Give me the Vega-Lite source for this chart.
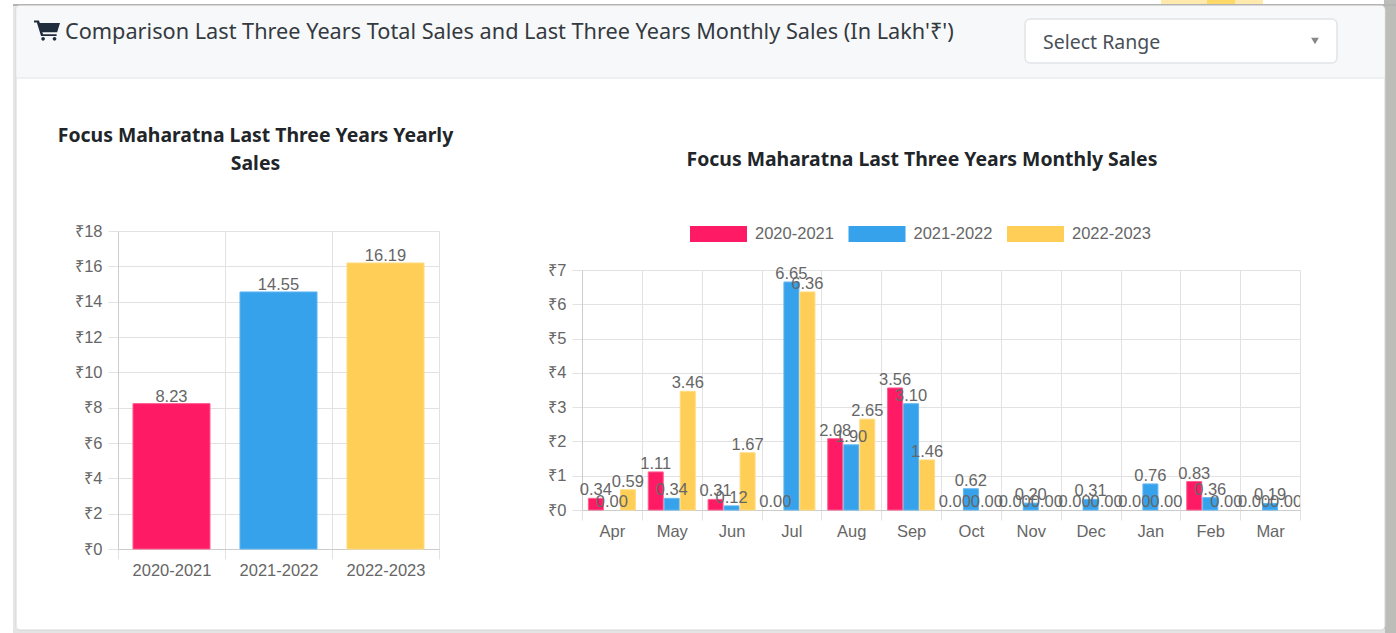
{
"$schema":"https://vega.github.io/schema/vega-lite/v6.json",
"padding":{"left":13,"top":0,"right":0,"bottom":0},
"background":"#ffffff",
"bounds":"flush",
"spacing":153,
"resolve":{"scale":{"color":"independent","stroke":"independent"},"legend":{"color":"independent","stroke":"independent"}},
"config":{"view":{"stroke":null},"font":"Liberation Sans"},
"datasets":{
"yearly":[{"year":"2020-2021","sales":8.23},{"year":"2021-2022","sales":14.55},{"year":"2022-2023","sales":16.19}],
"monthly":[
{"month":"Apr","year":"2020-2021","sales":0.34},{"month":"Apr","year":"2021-2022","sales":0},{"month":"Apr","year":"2022-2023","sales":0.59},
{"month":"May","year":"2020-2021","sales":1.11},{"month":"May","year":"2021-2022","sales":0.34},{"month":"May","year":"2022-2023","sales":3.46},
{"month":"Jun","year":"2020-2021","sales":0.31},{"month":"Jun","year":"2021-2022","sales":0.12},{"month":"Jun","year":"2022-2023","sales":1.67},
{"month":"Jul","year":"2020-2021","sales":0},{"month":"Jul","year":"2021-2022","sales":6.65},{"month":"Jul","year":"2022-2023","sales":6.36},
{"month":"Aug","year":"2020-2021","sales":2.08},{"month":"Aug","year":"2021-2022","sales":1.90},{"month":"Aug","year":"2022-2023","sales":2.65},
{"month":"Sep","year":"2020-2021","sales":3.56},{"month":"Sep","year":"2021-2022","sales":3.10},{"month":"Sep","year":"2022-2023","sales":1.46},
{"month":"Oct","year":"2020-2021","sales":0},{"month":"Oct","year":"2021-2022","sales":0.62},{"month":"Oct","year":"2022-2023","sales":0},
{"month":"Nov","year":"2020-2021","sales":0},{"month":"Nov","year":"2021-2022","sales":0.20},{"month":"Nov","year":"2022-2023","sales":0},
{"month":"Dec","year":"2020-2021","sales":0},{"month":"Dec","year":"2021-2022","sales":0.31},{"month":"Dec","year":"2022-2023","sales":0},
{"month":"Jan","year":"2020-2021","sales":0},{"month":"Jan","year":"2021-2022","sales":0.76},{"month":"Jan","year":"2022-2023","sales":0},
{"month":"Feb","year":"2020-2021","sales":0.83},{"month":"Feb","year":"2021-2022","sales":0.36},{"month":"Feb","year":"2022-2023","sales":0},
{"month":"Mar","year":"2020-2021","sales":0},{"month":"Mar","year":"2021-2022","sales":0.19},{"month":"Mar","year":"2022-2023","sales":0}
]},
"vconcat":[
{"width":1371,"height":73,
 "encoding":{},
 "layer":[
 {"data":{"values":[{"part":"page right"}]},"mark":{"type":"rect","fill":"#bcbdb9","clip":false},
  "encoding":{"x":{"datum":1369,"type":"quantitative","scale":{"domain":[0,1371],"range":[0,1371],"nice":false},"axis":null},"x2":{"datum":1382},"y":{"datum":-5,"type":"quantitative","scale":{"domain":[0,73],"range":[0,73],"nice":false},"axis":null},"y2":{"datum":628}}},
 {"data":{"values":[{"part":"page left"}]},"mark":{"type":"rect","fill":"#e6e6e6"},
  "encoding":{"x":{"datum":-2,"type":"quantitative"},"x2":{"datum":1},"y":{"datum":0,"type":"quantitative"},"y2":{"datum":628}}},
 {"data":{"values":[{"part":"page bottom"}]},"mark":{"type":"rect","fill":"#e4e4e4"},
  "encoding":{"x":{"datum":-2,"type":"quantitative"},"x2":{"datum":1370},"y":{"datum":624,"type":"quantitative"},"y2":{"datum":628}}},
 {"data":{"values":[{"part":"page top"}]},"mark":{"type":"rect","fill":"#b4b4b4"},
  "encoding":{"x":{"datum":-2,"type":"quantitative"},"x2":{"datum":1382},"y":{"datum":-1,"type":"quantitative"},"y2":{"datum":1}}},
 {"data":{"values":[{"part":"glow"}]},"mark":{"type":"rect","fill":"#ffe9ad"},
  "encoding":{"x":{"datum":1146,"type":"quantitative"},"x2":{"datum":1248},"y":{"datum":-5,"type":"quantitative"},"y2":{"datum":-1}}},
 {"data":{"values":[{"part":"glow core"}]},"mark":{"type":"rect","fill":"#ffd968"},
  "encoding":{"x":{"datum":1192,"type":"quantitative"},"x2":{"datum":1220},"y":{"datum":-5,"type":"quantitative"},"y2":{"datum":-1}}},
 {"data":{"values":[{"part":"card"}]},"mark":{"type":"rect","fill":"#ffffff","stroke":"#d6d6d6","strokeWidth":1,"cornerRadius":4},
  "encoding":{"x":{"datum":1,"type":"quantitative"},"x2":{"datum":1370},"y":{"datum":0.5,"type":"quantitative"},"y2":{"datum":625}}},
 {"data":{"values":[{"part":"header"}]},"mark":{"type":"rect","fill":"#f7f8fa","stroke":null,"cornerRadius":3},
  "encoding":{"x":{"datum":1.5,"type":"quantitative"},"x2":{"datum":1369.5},"y":{"datum":1,"type":"quantitative"},"y2":{"datum":73}}},
 {"data":{"values":[{"part":"rule"}]},"mark":{"type":"rule","stroke":"#e2e4e7"},
  "encoding":{"x":{"datum":1,"type":"quantitative"},"x2":{"datum":1370},"y":{"datum":73,"type":"quantitative"}}},
 {"data":{"values":[{"part":"cart"}]},"mark":{"type":"point","filled":true,"opacity":1,"size":676,"color":"#1f2d3d","shape":"M-1 -0.74H-0.62L-0.55 -0.53H1L0.78 0.17H-0.36L-0.3 0.33H0.74V0.47H-0.46L-0.78 -0.58H-1ZM-0.3 0.54A0.14 0.14 0 1 0 -0.3 0.82A0.14 0.14 0 1 0 -0.3 0.54ZM0.58 0.54A0.14 0.14 0 1 0 0.58 0.82A0.14 0.14 0 1 0 0.58 0.54Z"},
  "encoding":{"x":{"datum":32,"type":"quantitative"},"y":{"datum":25,"type":"quantitative"}}},
 {"data":{"values":[{"label":"Comparison Last Three Years Total Sales and Last Three Years Monthly Sales (In Lakh'₹')"}]},"mark":{"type":"text","align":"left","baseline":"middle","font":"Noto Sans","fontSize":21.7,"color":"#343a40"},
  "encoding":{"x":{"datum":50,"type":"quantitative"},"y":{"datum":27,"type":"quantitative"},"text":{"field":"label"}}},
 {"data":{"values":[{"part":"select"}]},"mark":{"type":"rect","fill":"#ffffff","stroke":"#e1e4e8","strokeWidth":1.5,"cornerRadius":5},
  "encoding":{"x":{"datum":1010,"type":"quantitative"},"x2":{"datum":1322},"y":{"datum":14,"type":"quantitative"},"y2":{"datum":58}}},
 {"data":{"values":[{"label":"Select Range"}]},"mark":{"type":"text","align":"left","baseline":"middle","font":"Noto Sans","fontSize":19.5,"color":"#495057"},
  "encoding":{"x":{"datum":1028,"type":"quantitative"},"y":{"datum":38,"type":"quantitative"},"text":{"field":"label"}}},
 {"data":{"values":[{"part":"arrow"}]},"mark":{"type":"point","shape":"triangle-down","filled":true,"opacity":1,"size":60,"color":"#888888"},
  "encoding":{"x":{"datum":1300,"type":"quantitative"},"y":{"datum":36,"type":"quantitative"}}}
 ]},
{"bounds":"flush","center":true,"spacing":0,
 "resolve":{"scale":{"color":"independent","stroke":"independent"},"legend":{"color":"independent","stroke":"independent"}},
 "hconcat":[
 {"width":103,"height":1,"data":{"values":[]},"mark":"rect","encoding":{}},
 {"width":321,"height":318,
  "title":{"text":["Focus Maharatna Last Three Years Yearly","Sales"],"font":"Noto Sans","fontSize":19.4,"fontWeight":"bold","color":"#212529","lineHeight":28,"anchor":"middle","dx":-23,"offset":49},
  "data":{"name":"yearly"},
  "encoding":{
   "x":{"field":"year","type":"nominal","sort":null,"title":null,"scale":{"padding":0},
     "axis":{"labelAngle":0,"labelFontSize":16.5,"labelColor":"#666666","labelPadding":3,"tickSize":10,"tickColor":"#e2e2e2","tickBand":"extent","grid":true,"gridColor":"#e2e2e2","domainColor":"#cccccc"}},
   "y":{"field":"sales","type":"quantitative","title":null,"scale":{"domain":[0,18]},
     "axis":{"values":[0,2,4,6,8,10,12,14,16,18],"labelExpr":"'₹'+datum.value","labelFontSize":16.5,"labelColor":"#666666","labelPadding":6,"tickSize":10,"tickColor":"#e2e2e2","grid":true,"gridColor":"#e2e2e2","domainColor":"#cccccc"}}},
  "layer":[
   {"mark":{"type":"bar","strokeWidth":1,"width":{"band":0.72}},
    "encoding":{
     "color":{"field":"year","type":"nominal","legend":null,"scale":{"domain":["2020-2021","2021-2022","2022-2023"],"range":["#ff1a66","#36a2eb","#ffce56"]}},
     "stroke":{"field":"year","type":"nominal","legend":null,"scale":{"domain":["2020-2021","2021-2022","2022-2023"],"range":["#ff5f91","#62b6f0","#ffdb80"]}}}},
   {"mark":{"type":"text","baseline":"alphabetic","dy":-2,"fontSize":16.5,"color":"#666666"},
    "encoding":{"text":{"field":"sales","type":"quantitative","format":".2f"}}}
  ]},
 {"width":143,"height":1,"data":{"values":[]},"mark":"rect","encoding":{}},
 {"width":718,"height":240,
  "title":{"text":"Focus Maharatna Last Three Years Monthly Sales","font":"Noto Sans","fontSize":19.4,"fontWeight":"bold","color":"#212529","anchor":"middle","dx":-19,"offset":35},
  "data":{"name":"monthly"},
  "encoding":{
   "x":{"field":"month","type":"nominal","sort":null,"title":null,"scale":{"padding":0},
     "axis":{"labelAngle":0,"labelFontSize":16.5,"labelColor":"#666666","labelPadding":3,"tickSize":10,"tickColor":"#e2e2e2","tickBand":"extent","grid":true,"gridColor":"#e2e2e2","domainColor":"#cccccc"}},
   "xOffset":{"field":"year","type":"nominal","scale":{"domain":["2020-2021","2021-2022","2022-2023"],"paddingInner":0.0625,"paddingOuter":0.4}},
   "y":{"field":"sales","type":"quantitative","title":null,"scale":{"domain":[0,7]},
     "axis":{"values":[0,1,2,3,4,5,6,7],"labelExpr":"'₹'+datum.value","labelFontSize":16.5,"labelColor":"#666666","labelPadding":6,"tickSize":10,"tickColor":"#e2e2e2","grid":true,"gridColor":"#e2e2e2","domainColor":"#cccccc"}}},
  "layer":[
   {"transform":[{"filter":"datum.sales>0"}],"mark":{"type":"bar","strokeWidth":1},
    "encoding":{
     "color":{"field":"year","type":"nominal","title":null,
       "scale":{"domain":["2020-2021","2021-2022","2022-2023"],"range":["#ff1a66","#36a2eb","#ffce56"]},
       "legend":{"orient":"none","legendX":108,"legendY":-64.5,"direction":"horizontal","columns":3,"symbolType":"M-1 -0.28H1V0.28H-1Z","symbolSize":3249,"symbolStrokeWidth":0,"labelFontSize":16.5,"labelColor":"#666666","labelOffset":8,"columnPadding":14.5}},
     "stroke":{"field":"year","type":"nominal","legend":null,"scale":{"domain":["2020-2021","2021-2022","2022-2023"],"range":["#ff5f91","#62b6f0","#ffdb80"]}}}},
   {"transform":[{"filter":"datum.month!='Mar'"}],"mark":{"type":"text","baseline":"alphabetic","dy":-3,"fontSize":16.5,"color":"#666666"},
    "encoding":{"text":{"field":"sales","type":"quantitative","format":".2f"}}},
   {"transform":[{"filter":"datum.month=='Mar'"}],"mark":{"type":"text","baseline":"alphabetic","dy":-3,"fontSize":16.5,"color":"#666666","clip":true},
    "encoding":{"text":{"field":"sales","type":"quantitative","format":".2f"}}}
  ]}
 ]}
]}
